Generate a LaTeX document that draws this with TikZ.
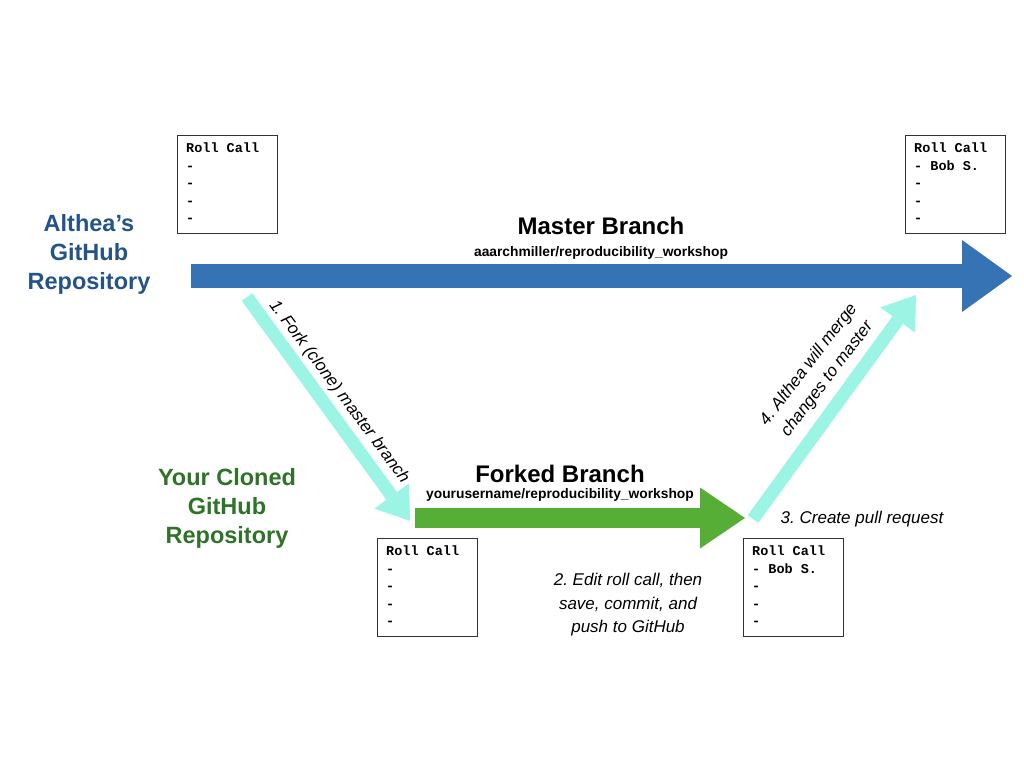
\documentclass[tikz,border=0pt]{standalone}
\usepackage{fontspec}
\setmainfont{Liberation Sans}
\setmonofont{Liberation Mono}
\usetikzlibrary{arrows.meta,calc}
\definecolor{masterblue}{HTML}{3673B5}
\definecolor{altheablue}{HTML}{24538A}
\definecolor{forkgreen}{HTML}{57AE37}
\definecolor{clonegreen}{HTML}{2E7327}
\definecolor{aqua}{HTML}{9CF5E4}
\definecolor{boxline}{HTML}{333333}
\frenchspacing
\begin{document}
\begin{tikzpicture}[x=1bp,y=-1bp,
  rollbox/.style={draw=boxline, line width=1bp, minimum width=100bp, minimum height=98bp, inner sep=0pt, anchor=north west},
  rolltext/.style={anchor=north west, inner sep=0pt, align=left, font=\ttfamily\bfseries\fontsize{13.5bp}{17.5bp}\selectfont},
  repolabel/.style={align=center, font=\bfseries\fontsize{23.5bp}{29bp}\selectfont},
  branchtitle/.style={font=\bfseries\fontsize{24bp}{28bp}\selectfont},
  branchpath/.style={font=\bfseries\fontsize{13.8bp}{16bp}\selectfont},
  steplabel/.style={align=center, font=\itshape\fontsize{17bp}{23.5bp}\selectfont},
  masterarrow/.style={masterblue, line width=24bp, -{Triangle[length=50bp,width=72bp,line width=0pt]}},
  forkarrow/.style={forkgreen, line width=20bp, -{Triangle[length=45bp,width=61bp,line width=0pt]}},
  stepArrow/.style={aqua, line width=13bp, -{Triangle[length=31bp,width=43bp,line width=0pt]}}
]
\fill[white] (0,0) rectangle (1024,768);
\useasboundingbox (0,0) rectangle (1024,768);

% coordinates of arrow ends
\coordinate (ms) at (191,276);
\coordinate (me) at (1012,276);
\coordinate (fs) at (415,518);
\coordinate (fe) at (745,518);
\coordinate (c1s) at (247,297);
\coordinate (c1e) at (410,521);
\coordinate (c2s) at (753,519);
\coordinate (c2e) at (916,295);

\draw[masterarrow] (ms) -- (me);
\draw[forkarrow] (fs) -- (fe);
\draw[stepArrow] (c1s) -- (c1e);
\draw[stepArrow] (c2s) -- (c2e);

% labels
\node[repolabel, text=altheablue] (althea) at (89,254) {Althea’s\\GitHub\\Repository};
\node[repolabel, text=clonegreen] (yours) at (227,508) {Your Cloned\\GitHub\\Repository};
\node[branchtitle] (mtitle) at (601,226) {Master Branch};
\node[branchpath] (mpath) at (601,253) {aaarchmiller/reproducibility\_workshop};
\node[branchtitle] (ftitle) at (560,474) {Forked Branch};
\node[branchpath] (fpath) at (560,495) {yourusername/reproducibility\_workshop};
\node[steplabel] (s2) at (628,605) {2. Edit roll call, then\\save, commit, and\\push to GitHub};
\node[steplabel] (s3) at (862,519) {3. Create pull request};
\node[steplabel, rotate=-53.3] (s1) at (339,392) {1. Fork (clone) master branch};
\node[steplabel, rotate=52.5] (s4) at (818,372) {4. Althea will merge\\changes to master};

% roll call boxes
\node[rollbox] (b1) at (177,135) {};
\node[rolltext] (b1t) at ($(b1.north west)+(9,8)$) {Roll Call\\-\\-\\-\\-};
\node[rollbox] (b2) at (905,135) {};
\node[rolltext] (b2t) at ($(b2.north west)+(9,8)$) {Roll Call\\- Bob S.\\-\\-\\-};
\node[rollbox] (b3) at (377,538) {};
\node[rolltext] (b3t) at ($(b3.north west)+(9,8)$) {Roll Call\\-\\-\\-\\-};
\node[rollbox] (b4) at (743,538) {};
\node[rolltext] (b4t) at ($(b4.north west)+(9,8)$) {Roll Call\\- Bob S.\\-\\-\\-};
\end{tikzpicture}
\end{document}
